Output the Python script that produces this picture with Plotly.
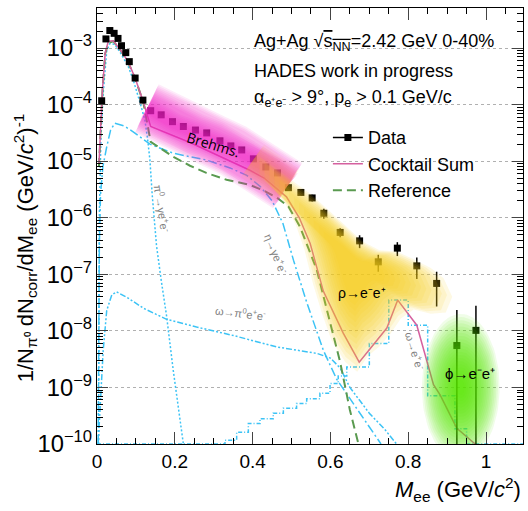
import numpy as np
import plotly.graph_objects as go

# ---------------- data points ----------------
mass = [0.012, 0.023, 0.033, 0.044, 0.054, 0.063, 0.074, 0.083, 0.098, 0.118,
        0.138, 0.165, 0.194, 0.222, 0.253, 0.282, 0.316, 0.344, 0.372, 0.402,
        0.434, 0.464, 0.492, 0.524, 0.553, 0.583, 0.625, 0.675, 0.723, 0.772,
        0.822, 0.873, 0.925, 0.974]
dndm = [1.17e-4, 1.45e-3, 2.04e-3, 1.82e-3, 1.48e-3, 1.10e-3, 8.3e-4, 5.75e-4, 2.95e-4, 1.20e-4,
        7.8e-5, 6.6e-5, 5.0e-5, 4.1e-5, 3.55e-5, 3.16e-5, 2.29e-5, 1.86e-5, 1.58e-5, 1.10e-5,
        7.9e-6, 6.2e-6, 3.4e-6, 2.8e-6, 2.24e-6, 1.20e-6, 5.5e-7, 3.9e-7, 1.66e-7, 2.9e-7,
        1.41e-7, 6.9e-8, 5.5e-9, 1.02e-8]
dndm_err = [0] * 22 + [0.25e-6, 0.2e-6, 0.3e-6, 0.24e-6, 1.0e-7, 1.0e-7, 0.55e-7, 0.8e-7,
                       0.58e-7, 4.2e-8, 1.8e-8, 1.75e-8]

# ---------------- cocktail sum ----------------
cocktail_x = [0.005, 0.014, 0.021, 0.029, 0.042, 0.063, 0.08, 0.098, 0.119, 0.138,
              0.239, 0.393, 0.43, 0.487, 0.52, 0.548, 0.582, 0.633, 0.674, 0.719,
              0.745, 0.773, 0.822, 0.865, 0.882, 0.925, 0.972]
cocktail_y = [8.9e-6, 1.82e-4, 8.1e-4, 1.32e-3, 1.35e-3, 8.7e-4, 5.75e-4, 2.95e-4, 1.12e-4, 4.1e-5,
              2.14e-5, 6.9e-6, 5.0e-6, 2.34e-6, 1.0e-6, 3.5e-7, 5.0e-8, 9.1e-9, 2.8e-9, 6.9e-9,
              1.12e-8, 3.5e-8, 1.26e-8, 1.12e-9, 7.4e-10, 1.9e-10, 1.0e-10]

# ---------------- reference ----------------
reference_x = [0.005, 0.014, 0.021, 0.029, 0.042, 0.063, 0.08, 0.098, 0.119, 0.138,
               0.196, 0.239, 0.281, 0.333, 0.393, 0.43, 0.465, 0.492, 0.522, 0.565,
               0.59, 0.625, 0.65, 0.672]
reference_y = [7.9e-6, 1.74e-4, 7.9e-4, 1.23e-3, 1.32e-3, 8.7e-4, 5.6e-4, 2.9e-4, 1.1e-4, 2.2e-5,
               1.2e-5, 8.3e-6, 6.2e-6, 4.7e-6, 3.8e-6, 3.0e-6, 2.2e-6, 1.58e-6, 6.9e-7, 1.2e-7,
               2.5e-8, 2.8e-9, 4.0e-10, 1.0e-10]

# ---------------- cocktail components ----------------
pi0_x = [0.004, 0.006, 0.01, 0.016, 0.025, 0.033, 0.045, 0.06, 0.08, 0.093, 0.11, 0.123,
         0.13, 0.136, 0.142, 0.153, 0.165, 0.179, 0.196, 0.213, 0.222]
pi0_y = [1e-10, 1e-6, 2.5e-5, 1.6e-4, 8.9e-4, 1.2e-3, 1.17e-3, 8.3e-4, 4.8e-4, 2.75e-4,
         1.12e-4, 5.4e-5, 2.5e-5, 1.05e-5, 2.5e-6, 3.2e-7, 7.9e-8, 1.8e-8, 2.0e-9, 3.2e-10, 1e-10]

eta_x = [0.003, 0.006, 0.009, 0.015, 0.025, 0.035, 0.046, 0.07, 0.093, 0.136, 0.196, 0.239,
         0.281, 0.342, 0.385, 0.42, 0.45, 0.478, 0.505, 0.539, 0.565, 0.582, 0.616, 0.65,
         0.69, 0.73]
eta_y = [1e-10, 3.2e-7, 2.5e-6, 7.9e-6, 1.8e-5, 3.55e-5, 4.7e-5, 4.2e-5, 3.3e-5, 2.0e-5,
         1.38e-5, 1.2e-5, 1.05e-5, 7.6e-6, 5.6e-6, 3.55e-6, 2.0e-6, 7.9e-7, 1.78e-7, 3.2e-8,
         1.0e-8, 4.5e-9, 1.4e-9, 6.3e-10, 2.5e-10, 1e-10]

omega_dalitz_x = [0.003, 0.008, 0.016, 0.025, 0.038, 0.05, 0.08, 0.12, 0.179, 0.256, 0.35,
                  0.462, 0.565, 0.6, 0.625, 0.65, 0.7, 0.74, 0.77]
omega_dalitz_y = [1e-10, 5e-10, 4.6e-9, 2.3e-8, 4.3e-8, 4.9e-8, 3.8e-8, 2.5e-8, 1.6e-8, 1.17e-8,
                  8.3e-9, 5.2e-9, 4.0e-9, 3.3e-9, 2.2e-9, 1.0e-9, 3.5e-10, 1.8e-10, 1e-10]

omega_ee_edges = [0.0, 0.329, 0.359, 0.389, 0.419, 0.453, 0.479, 0.513, 0.539, 0.573, 0.599,
                  0.62, 0.642, 0.70, 0.75, 0.80, 0.85, 0.92, 0.95, 1.1]
omega_ee_y = [1e-10, 1.17e-10, 1.62e-10, 2.3e-10, 2.8e-10, 3.5e-10, 4.3e-10, 5.2e-10, 6.3e-10,
              7.9e-10, 1.17e-9, 1.6e-9, 2.3e-9, 6.0e-9, 3.5e-8, 1.26e-8, 7.1e-10, 1.86e-10,
              1e-10, 1e-10]

# ---------------- highlighted regions (artistic bands) ----------------
brems_band_x = [0.128, 0.16, 0.2, 0.25, 0.3, 0.35, 0.4, 0.45, 0.49]
brems_band_y = [8.5e-5, 6.0e-5, 4.2e-5, 3.1e-5, 2.25e-5, 1.55e-5, 1.02e-5, 6.3e-6, 3.7e-6]

rho_band_x = [0.44, 0.48, 0.52, 0.56, 0.6, 0.64, 0.68, 0.72, 0.76, 0.8, 0.84, 0.87, 0.89,
              0.875, 0.84, 0.8, 0.77, 0.745, 0.72, 0.693, 0.668, 0.64, 0.608, 0.585, 0.565,
              0.545, 0.525, 0.5, 0.47, 0.44]
rho_band_y = [7.9e-6, 5.0e-6, 3.2e-6, 2.0e-6, 1.12e-6, 6.3e-7, 3.5e-7, 2.5e-7, 2.4e-7, 1.8e-7,
              1.3e-7, 8.9e-8, 4.5e-8, 2.5e-8, 2.4e-8, 2.8e-8, 2.0e-8, 1.12e-8, 7.1e-9, 5.0e-9,
              2.8e-9, 4.0e-9, 8.9e-9, 2.5e-8, 7.1e-8, 2.5e-7, 6.3e-7, 1.41e-6, 2.5e-6, 4.0e-6]

phi_center = (0.935, 1.0e-9)

FONT = "Liberation Sans, Arial, sans-serif"
CYAN = "#3cc3f5"
PINK = "#d5609f"
GREEN = "#5a9a50"

fig = go.Figure()

# components
fig.add_trace(go.Scatter(x=pi0_x, y=pi0_y, mode="lines", showlegend=False,
                         line=dict(color=CYAN, width=1.5, dash="2px,2px")))
fig.add_trace(go.Scatter(x=eta_x, y=eta_y, mode="lines", showlegend=False,
                         line=dict(color=CYAN, width=1.5, dash="9px,3px,2px,3px")))
fig.add_trace(go.Scatter(x=omega_dalitz_x, y=omega_dalitz_y, mode="lines", showlegend=False,
                         line=dict(color=CYAN, width=1.5, dash="6px,2px,2px,2px,2px,2px")))
fig.add_trace(go.Scatter(x=omega_ee_edges, y=omega_ee_y, mode="lines", line_shape="hv",
                         showlegend=False,
                         line=dict(color=CYAN, width=1.5, dash="4px,2px,1px,2px")))

fig.add_trace(go.Scatter(x=reference_x, y=reference_y, mode="lines", name="Reference",
                         legendrank=3, line=dict(color=GREEN, width=2, dash="9px,5px")))
fig.add_trace(go.Scatter(x=cocktail_x, y=cocktail_y, mode="lines", name="Cocktail Sum",
                         legendrank=2, line=dict(color=PINK, width=1.5)))

fig.add_trace(go.Scatter(x=mass, y=dndm, mode="markers", showlegend=False,
                         marker=dict(symbol="square", size=7, color="black"),
                         error_y=dict(type="data", array=dndm_err, color="black",
                                      thickness=1.5, width=0)))
fig.add_trace(go.Scatter(x=[None], y=[None], mode="lines+markers", name="Data", legendrank=1,
                         marker=dict(symbol="square", size=7, color="black"),
                         line=dict(color="black", width=1.5)))

# Bremsstrahlung glow
for w in np.linspace(54, 6, 16):
    fig.add_trace(go.Scatter(x=brems_band_x, y=brems_band_y, mode="lines", showlegend=False,
                             hoverinfo="skip",
                             line=dict(color="rgba(245,30,200,0.09)", width=float(w))))
for w in np.linspace(40, 8, 8):
    fig.add_trace(go.Scatter(x=brems_band_x[-3:], y=brems_band_y[-3:], mode="lines",
                             showlegend=False, hoverinfo="skip",
                             line=dict(color="rgba(250,180,40,0.07)", width=float(w))))

# rho glow
rx = np.array(rho_band_x)
ry = np.log10(np.array(rho_band_y))
cx, cy = rx.mean(), ry.mean()
for s in np.linspace(1.1, 0.35, 14):
    fig.add_trace(go.Scatter(x=cx + s * (rx - cx), y=10 ** (cy + s * (ry - cy)),
                             mode="lines", fill="toself", showlegend=False, hoverinfo="skip",
                             line=dict(width=0, color="rgba(0,0,0,0)"),
                             fillcolor="rgba(245,205,25,0.12)"))

# phi glow
t = np.linspace(0, 2 * np.pi, 90)
pcx, pcy = phi_center[0], np.log10(phi_center[1])
for s in np.linspace(1.0, 0.1, 22):
    fig.add_trace(go.Scatter(x=pcx + s * 0.1 * np.cos(t), y=10 ** (pcy + s * 1.3 * np.sin(t)),
                             mode="lines", fill="toself", showlegend=False, hoverinfo="skip",
                             line=dict(width=0, color="rgba(0,0,0,0)"),
                             fillcolor="rgba(85,235,0,0.09)"))

ann = []
def add_text(text, x, y, size, color="black", angle=0, font=FONT, xref="x", yref="y",
             xanchor="center", yanchor="middle"):
    ann.append(dict(text=text, x=x, y=y, xref=xref, yref=yref, showarrow=False,
                    textangle=angle, xanchor=xanchor, yanchor=yanchor,
                    font=dict(family=font, size=size, color=color)))

add_text("Brehms.", 0.30, -4.71, 14, angle=17, font="Open Sans, DejaVu Sans, sans-serif")
add_text("ρ→e⁻e⁺", 0.681, -7.33, 14)
add_text("ϕ→e⁻e⁺", 0.959, -8.75, 15)
add_text("π<sup>0</sup>→γe<sup>+</sup>e<sup>-</sup>", 0.166, -5.83, 11, "#808080", 81)
add_text("η→γe<sup>+</sup>e<sup>-</sup>", 0.461, -6.64, 11, "#808080", 68)
add_text("ω→π<sup>0</sup>e<sup>+</sup>e<sup>-</sup>", 0.369, -7.69, 11, "#808080", 7)
add_text("ω→e<sup>+</sup>e<sup>-</sup>", 0.817, -8.36, 11, "#808080", 73)

add_text("Ag+Ag √<span style='text-decoration:overline'>s<sub>NN</sub></span>=2.42 GeV 0-40%",
         0.364, 0.922, 18, xref="paper", yref="paper", xanchor="left")
add_text("HADES work in progress", 0.364, 0.855, 18, xref="paper", yref="paper", xanchor="left")
add_text("α<sub>e⁺e⁻</sub> > 9°, p<sub>e</sub> > 0.1 GeV/c", 0.364, 0.793, 18,
         xref="paper", yref="paper", xanchor="left")

add_text("<i>M</i><sub>ee</sub> (GeV/<i>c</i><sup>2</sup>)", 1.0, -0.105, 22,
         xref="paper", yref="paper", xanchor="right")
add_text("1/N<sub>π⁰</sub> dN<sub>corr</sub>/dM<sub>ee</sub> (GeV/<i>c</i><sup>2</sup>)<sup>-1</sup>",
         -0.168, 0.45, 22, angle=-90, xref="paper", yref="paper")

fig.update_layout(
    width=528, height=511,
    margin=dict(l=97, r=5, t=8, b=67, autoexpand=False),
    paper_bgcolor="white", plot_bgcolor="white",
    font=dict(family=FONT, size=19, color="black"),
    annotations=ann,
    showlegend=True,
    legend=dict(x=0.542, y=0.745, xanchor="left", yanchor="top", bgcolor="rgba(0,0,0,0)",
                font=dict(size=18), tracegroupgap=0, itemwidth=30),
    xaxis=dict(range=[0, 1.095], dtick=0.2, ticks="inside", ticklen=12, mirror="allticks",
               showline=True, linecolor="black", linewidth=1.2, showgrid=False, zeroline=False,
               tickfont=dict(size=19), automargin=False,
               minor=dict(ticks="inside", ticklen=6, dtick=0.05, tickcolor="black")),
    yaxis=dict(type="log", range=[-10, -2.292], dtick=1, exponentformat="power",
               ticks="inside", ticklen=11, mirror="allticks", showline=True, linecolor="black",
               linewidth=1.2, showgrid=True, gridcolor="#b0b0b0", griddash="dot", gridwidth=1,
               zeroline=False, tickfont=dict(size=19), automargin=False,
               minor=dict(ticks="inside", ticklen=6, dtick="D1", tickcolor="black",
                          showgrid=False)),
)

fig.write_html("out.html", config={"displayModeBar": False},
               post_script="document.body.style.margin='0px';")
